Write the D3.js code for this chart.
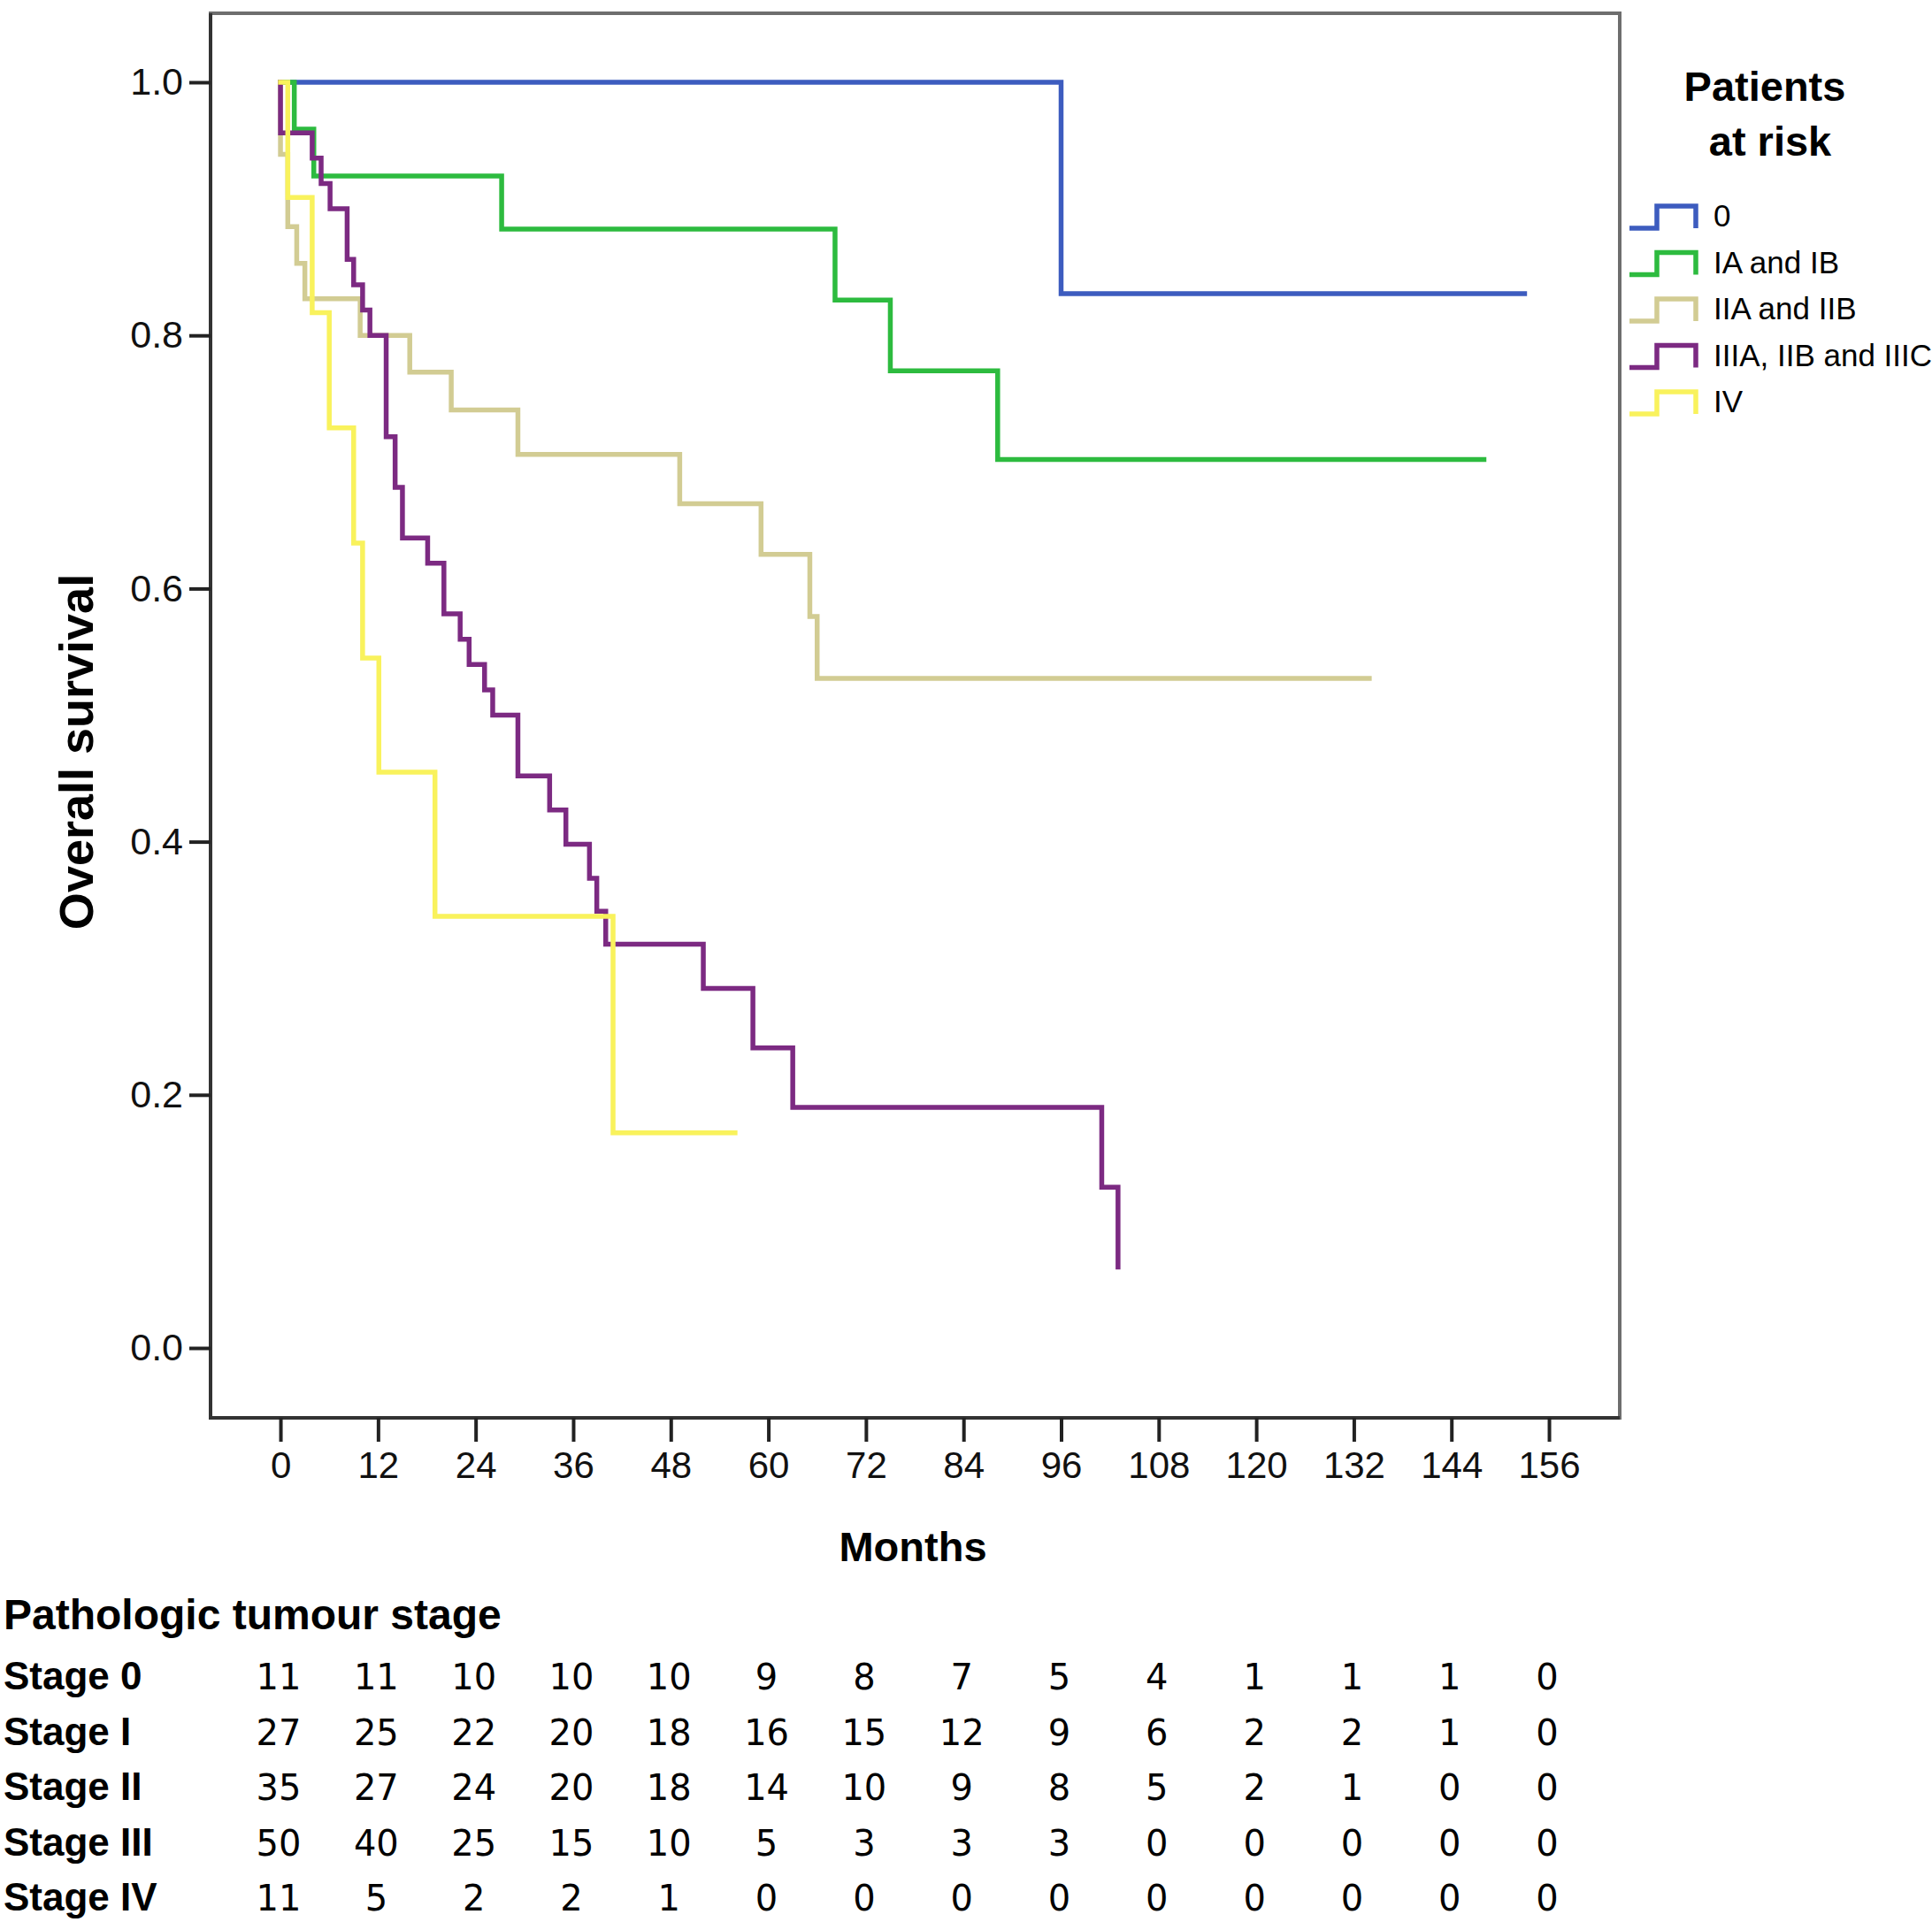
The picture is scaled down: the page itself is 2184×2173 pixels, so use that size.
<!DOCTYPE html>
<html>
<head>
<meta charset="utf-8">
<script src="https://cdn.jsdelivr.net/npm/d3@7"></script>
<style>
  html, body { margin: 0; padding: 0; background: #fff; }
  svg { display: block; }
  .tick text { font-family: "Liberation Sans", Arial, sans-serif; fill: #111; }
  .bold { font-family: "Liberation Sans", Arial, sans-serif; font-weight: bold; fill: #000; }
  .lg-label { font-family: "Liberation Sans", Arial, sans-serif; fill: #000; }
  .risk-num { font-family: "DejaVu Sans", sans-serif; fill: #000; }
</style>
</head>
<body>
<svg id="chart"></svg>
<script>
// survival curves (months, survival)
const stage0Months = [0, 96, 153];
const stage0Surv = [1, 0.833, 0.833];

const stageIMonths = [0, 1.7, 4.1, 27.2, 68.2, 75.0, 88.2, 148];
const stageISurv = [1, 0.963, 0.926, 0.884, 0.828, 0.772, 0.702, 0.702];

const stageIIMonths = [0, 0, 0.9, 2.0, 3.0, 9.8, 15.9, 21.0, 29.2, 49.1, 59.1, 65.1, 66.0, 133.9];
const stageIISurv = [1, 0.943, 0.886, 0.857, 0.829, 0.8, 0.771, 0.741, 0.706, 0.667, 0.627, 0.578, 0.529, 0.529];

const stageIIIMonths = [0, 0, 3.9, 5.0, 6.1, 8.2, 9.0, 10.1, 11.0, 13.0, 14.1, 15.0, 18.1, 20.1, 22.1, 23.2,
  25.1, 26.1, 29.2, 33.1, 35.1, 38.0, 38.9, 40.0, 52.0, 58.1, 63.0, 101.0, 103.0];
const stageIIISurv = [1, 0.96, 0.94, 0.92, 0.90, 0.86, 0.84, 0.82, 0.80, 0.72, 0.68, 0.64, 0.62, 0.58, 0.56, 0.54,
  0.52, 0.50, 0.452, 0.425, 0.398, 0.371, 0.345, 0.319, 0.284, 0.237, 0.190, 0.127, 0.064];

const stageIVMonths = [0, 0.9, 3.9, 6.0, 9.0, 10.1, 12.1, 19.0, 40.9, 55.9];
const stageIVSurv = [1, 0.909, 0.818, 0.727, 0.636, 0.545, 0.455, 0.341, 0.170, 0.170];

// legend / groups
const groupLabels = ["0", "IA and IB", "IIA and IIB", "IIIA, IIB and IIIC", "IV"];
const groupColors = ["#3d5cbf", "#2dbb3f", "#d2cc93", "#7c2a82", "#f9f25c"];

// axis ticks
const xTickValues = [0, 12, 24, 36, 48, 60, 72, 84, 96, 108, 120, 132, 144, 156];
const yTickValues = [0, 0.2, 0.4, 0.6, 0.8, 1.0];

// patients at risk table
const stageNames = ["Stage 0", "Stage I", "Stage II", "Stage III", "Stage IV"];
const risk0 = [11, 11, 10, 10, 10, 9, 8, 7, 5, 4, 1, 1, 1, 0];
const riskI = [27, 25, 22, 20, 18, 16, 15, 12, 9, 6, 2, 2, 1, 0];
const riskII = [35, 27, 24, 20, 18, 14, 10, 9, 8, 5, 2, 1, 0, 0];
const riskIII = [50, 40, 25, 15, 10, 5, 3, 3, 3, 0, 0, 0, 0, 0];
const riskIV = [11, 5, 2, 2, 1, 0, 0, 0, 0, 0, 0, 0, 0, 0];

// build series
const series = [
  [stage0Months, stage0Surv],
  [stageIMonths, stageISurv],
  [stageIIMonths, stageIISurv],
  [stageIIIMonths, stageIIISurv],
  [stageIVMonths, stageIVSurv],
].map(([m, s], i) => ({
  label: groupLabels[i],
  color: groupColors[i],
  values: m.map((t, j) => ({ t, s: s[j] })),
}));
const riskRows = [risk0, riskI, riskII, riskIII, riskIV];

// dimensions
const W = 2184, H = 2173;
const m = { left: 238, top: 15 };
const pw = 1593, ph = 1588;

const svg = d3.select("#chart").attr("width", W).attr("height", H);
svg.append("rect").attr("width", W).attr("height", H).attr("fill", "#fff");

const x = d3.scaleLinear().domain([-8.6, 164.7]).range([0, pw]);
const y = d3.scaleLinear().domain([-0.0552, 1.0545]).range([ph, 0]);

const g = svg.append("g").attr("transform", `translate(${m.left},${m.top})`);

// frame
g.append("rect")
  .attr("width", pw)
  .attr("height", ph)
  .attr("fill", "none")
  .attr("stroke", "#6e6e6e")
  .attr("stroke-width", 4);
g.append("path")
  .attr("d", `M0,0V${ph}H${pw}`)
  .attr("fill", "none")
  .attr("stroke", "#333")
  .attr("stroke-width", 4);

// axes
const yAx = g
  .append("g")
  .call(d3.axisLeft(y).tickValues(yTickValues).tickFormat(d3.format(".1f")).tickSize(24).tickPadding(7));
yAx.select(".domain").remove();
yAx.selectAll(".tick line").attr("stroke", "#222").attr("stroke-width", 4);
yAx.selectAll(".tick text").style("font-size", "43px");

const xAx = g
  .append("g")
  .attr("transform", `translate(0,${ph})`)
  .call(d3.axisBottom(x).tickValues(xTickValues).tickSize(27).tickPadding(11));
xAx.select(".domain").remove();
xAx.selectAll(".tick line").attr("stroke", "#222").attr("stroke-width", 4);
xAx.selectAll(".tick text").style("font-size", "42px");

// curves
const line = d3
  .line()
  .curve(d3.curveStepAfter)
  .x((d) => x(d.t))
  .y((d) => y(d.s));

g.append("g")
  .selectAll("path")
  .data(series)
  .join("path")
  .attr("d", (d) => line(d.values))
  .attr("fill", "none")
  .attr("stroke", (d) => d.color)
  .attr("stroke-width", 5.5)
  .attr("stroke-linejoin", "miter")
  .attr("stroke-linecap", "square");

// axis titles
svg
  .append("text")
  .attr("class", "bold")
  .attr("transform", "translate(105,850) rotate(-90)")
  .attr("text-anchor", "middle")
  .style("font-size", "54px")
  .text("Overall survival");
svg
  .append("text")
  .attr("class", "bold")
  .attr("x", 1032)
  .attr("y", 1765)
  .attr("text-anchor", "middle")
  .style("font-size", "47px")
  .text("Months");

// legend
const lgT = svg.append("text").attr("class", "bold").attr("text-anchor", "middle").style("font-size", "47px");
lgT.append("tspan").attr("x", 1995).attr("y", 114).text("Patients");
lgT.append("tspan").attr("x", 2001).attr("y", 176).text("at risk");

const lg = svg
  .append("g")
  .selectAll("g")
  .data(series)
  .join("g")
  .attr("transform", (d, i) => `translate(1842,${258 + i * 52.5})`);
lg.append("path")
  .attr("d", "M0,0H31V-25H75V0")
  .attr("fill", "none")
  .attr("stroke", (d) => d.color)
  .attr("stroke-width", 5.5);
lg.append("text")
  .attr("class", "lg-label")
  .attr("x", 95)
  .attr("y", -2)
  .style("font-size", "35px")
  .text((d) => d.label);

// patients at risk table
svg
  .append("text")
  .attr("class", "bold")
  .attr("x", 4)
  .attr("y", 1842)
  .style("font-size", "48px")
  .text("Pathologic tumour stage");

const rowY = (i) => 1910 + i * 62.6;
svg
  .append("g")
  .selectAll("text")
  .data(stageNames)
  .join("text")
  .attr("class", "bold")
  .attr("x", 4)
  .attr("y", (d, i) => rowY(i))
  .style("font-size", "44px")
  .text((d) => d);

const rows = svg
  .append("g")
  .selectAll("g")
  .data(riskRows)
  .join("g")
  .attr("transform", (d, i) => `translate(${m.left},${rowY(i)})`);
rows
  .selectAll("text")
  .data((d) => d.map((v, j) => ({ v, t: xTickValues[j] })))
  .join("text")
  .attr("class", "risk-num")
  .attr("x", (d) => x(d.t) - 2)
  .attr("text-anchor", "middle")
  .style("font-size", "40px")
  .text((d) => d.v);
</script>
</body>
</html>
